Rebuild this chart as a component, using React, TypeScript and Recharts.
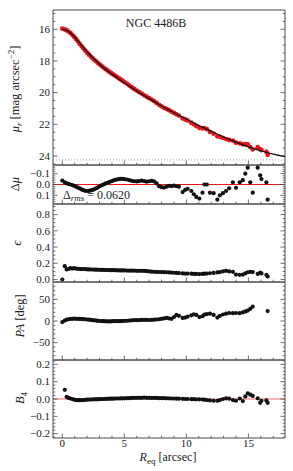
import {
  ComposedChart,
  ErrorBar,
  Line,
  ReferenceLine,
  Scatter,
  XAxis,
  YAxis,
} from "recharts";

const W = 293;
const H = 471;
const INK = "#4a4a4a";
const RED = "#e8161b";
const FONT = "'Liberation Serif', 'DejaVu Serif', serif";

// isophote radii [arcsec]
const radii = [
  0.0, 0.2, 0.35, 0.5, 0.65, 0.8, 0.95, 1.1, 1.25, 1.4,
  1.55, 1.7, 1.85, 2.0, 2.15, 2.3, 2.45, 2.6, 2.75, 2.9,
  3.05, 3.2, 3.35, 3.5, 3.65, 3.8, 3.95, 4.1, 4.25, 4.4,
  4.55, 4.7, 4.85, 5.0, 5.2, 5.4, 5.6, 5.8, 6.0, 6.2,
  6.4, 6.6, 6.8, 7.0, 7.2, 7.4, 7.6, 7.8, 8.0, 8.2,
  8.4, 8.6, 8.8, 9.0, 9.2, 9.4, 9.7, 9.9, 10.1, 10.4,
  10.6, 10.8, 11.05, 11.3, 11.45, 11.65, 11.9, 12.2, 12.5, 12.7,
  12.95, 13.2, 13.45, 13.75, 14.0, 14.3, 14.55, 14.75, 14.95, 15.15,
  15.35, 15.75, 15.95, 16.05, 16.45, 16.55,
];

// surface brightness [mag arcsec^-2]
const muObs = [
  15.96, 16.01, 16.06, 16.14, 16.23, 16.35, 16.47, 16.61, 16.76, 16.92,
  17.06, 17.2, 17.35, 17.48, 17.6, 17.72, 17.84, 17.94, 18.04, 18.15,
  18.24, 18.34, 18.43, 18.52, 18.6, 18.69, 18.77, 18.85, 18.93, 19.0,
  19.09, 19.17, 19.25, 19.33, 19.43, 19.55, 19.66, 19.77, 19.87, 19.97,
  20.06, 20.17, 20.26, 20.35, 20.44, 20.53, 20.65, 20.77, 20.87, 20.96,
  21.03, 21.11, 21.2, 21.28, 21.37, 21.45, 21.63, 21.69, 21.76, 21.9,
  22.0, 22.11, 22.22, 22.26, 22.24, 22.31, 22.48, 22.59, 22.76, 22.79,
  22.86, 22.93, 22.99, 23.03, 23.16, 23.2, 23.26, 23.26, 23.27, 23.44,
  23.58, 23.45, 23.58, 23.63, 23.74, 23.92,
];

const muErr = [
  0.02, 0.02, 0.02, 0.02, 0.02, 0.02, 0.02, 0.02, 0.02, 0.02,
  0.02, 0.02, 0.02, 0.02, 0.02, 0.02, 0.02, 0.02, 0.02, 0.02,
  0.02, 0.02, 0.02, 0.02, 0.02, 0.02, 0.02, 0.02, 0.02, 0.02,
  0.02, 0.02, 0.02, 0.02, 0.02, 0.02, 0.02, 0.02, 0.02, 0.02,
  0.02, 0.02, 0.02, 0.02, 0.02, 0.02, 0.02, 0.02, 0.02, 0.02,
  0.03, 0.03, 0.03, 0.03, 0.03, 0.03, 0.03, 0.03, 0.03, 0.03,
  0.04, 0.04, 0.05, 0.05, 0.05, 0.05, 0.06, 0.06, 0.07, 0.07,
  0.07, 0.08, 0.08, 0.08, 0.09, 0.09, 0.1, 0.1, 0.11, 0.11,
  0.12, 0.12, 0.13, 0.13, 0.14, 0.14,
];

// residuals data - model
const dMu = [
  -0.036, -0.02, -0.01, -0.005, 0.0, 0.005, 0.012, 0.02, 0.028, 0.036,
  0.045, 0.052, 0.058, 0.06, 0.058, 0.055, 0.05, 0.042, 0.034, 0.024,
  0.014, 0.006, -0.002, -0.01, -0.016, -0.024, -0.03, -0.036, -0.042, -0.046,
  -0.05, -0.052, -0.052, -0.05, -0.046, -0.04, -0.034, -0.03, -0.028, -0.032,
  -0.036, -0.032, -0.026, -0.03, -0.034, -0.028, -0.01, 0.015, 0.025, 0.028,
  0.02, 0.012, 0.015, 0.01, 0.016, 0.02, 0.07, 0.05, 0.04, 0.06,
  0.09, 0.115, 0.13, 0.075, 0.0, 0.0, 0.075, 0.08, 0.14, 0.1,
  0.08, 0.06, 0.035, -0.02, 0.03, -0.02, -0.04, -0.1, -0.155, -0.02,
  0.075, -0.155, -0.085, -0.05, -0.02, 0.14,
];

const ellip = [
  0.0, 0.165, 0.125, 0.13, 0.14, 0.135, 0.14, 0.135, 0.132, 0.13,
  0.128, 0.13, 0.128, 0.126, 0.125, 0.124, 0.124, 0.122, 0.122, 0.121,
  0.12, 0.12, 0.119, 0.118, 0.118, 0.117, 0.116, 0.116, 0.115, 0.114,
  0.114, 0.113, 0.112, 0.112, 0.111, 0.11, 0.11, 0.109, 0.108, 0.108,
  0.107, 0.106, 0.104, 0.1, 0.097, 0.095, 0.094, 0.093, 0.092, 0.091,
  0.09, 0.088, 0.086, 0.084, 0.082, 0.08, 0.076, 0.074, 0.074, 0.072,
  0.07, 0.07, 0.068, 0.07, 0.072, 0.074, 0.078, 0.082, 0.088, 0.092,
  0.1, 0.108, 0.1, 0.095, 0.062, 0.058, 0.062, 0.075, 0.09, 0.095,
  0.092, 0.07, 0.085, 0.075, 0.058, 0.038,
];

// position angle [deg]
const posAng = [
  -2.5, 1, 3, 4, 5, 5, 5.5, 5, 5, 4.8,
  4.5, 4.5, 4, 3.5, 3, 2.5, 2, 1.5, 1, 0.5,
  0, -0.5, -0.5, -0.8, -0.8, -1, -0.8, -0.5, -0.5, 0,
  -0.5, -0.2, 0, 0.3, 0.5, 1, 1.5, 2, 2, 2.2,
  2.5, 2.5, 2.5, 2.3, 2.5, 3, 3.5, 4, 5, 6,
  7, 6, 5, 9, 14, 12, 7, 8, 10, 13,
  15.5, 14, 9, 11, 15, 16, 17, 14, 8, 12,
  15, 17, 18.5, 18, 18.5, 18, 20, 22, 24, 28,
  33, null, null, null, null, 23,
];

const b4 = [
  null, 0.053, 0.012, 0.006, 0.003, 0.0, -0.004, -0.006, -0.007, -0.007,
  -0.006, -0.006, -0.005, -0.004, -0.003, -0.003, -0.002, -0.002, -0.002, -0.001,
  -0.001, 0.0, 0.0, 0.001, 0.001, 0.002, 0.002, 0.002, 0.003, 0.003,
  0.003, 0.004, 0.004, 0.004, 0.005, 0.005, 0.006, 0.006, 0.007, 0.007,
  0.007, 0.008, 0.007, 0.007, 0.006, 0.006, 0.006, 0.005, 0.005, 0.005,
  0.004, 0.004, 0.003, 0.003, 0.002, 0.002, 0.001, 0.0, 0.0, -0.001,
  -0.001, -0.002, -0.002, -0.003, -0.004, -0.006, -0.008, -0.01, -0.01, -0.006,
  0.0, 0.004, 0.002, -0.006, -0.01, 0.003, -0.012, 0.015, 0.033, 0.025,
  0.018, 0.004, -0.022, -0.01, -0.008, -0.022,
];

// fitted model profile
const modelR = [0, 0.25, 0.5, 0.75, 1, 1.5, 2, 2.5, 3, 3.5, 4, 4.5, 5, 6, 7, 8, 9, 10, 11, 12, 13, 14, 15, 16, 17, 18];
const modelMu = [
  16.0, 16.04, 16.14, 16.3, 16.5, 16.97, 17.42, 17.83, 18.2, 18.53, 18.83, 19.11, 19.38,
  19.9, 20.38, 20.84, 21.27, 21.68, 22.07, 22.44, 22.8, 23.13, 23.42, 23.67, 23.88, 24.05,
];

const xMajor = [0, 5, 10, 15];
const X_DOMAIN = [-0.75, 17.95];
const MU_DOMAIN = [14.78, 24.57];

const steps = (a: number, b: number, s: number) =>
  Array.from({ length: Math.round((b - a) / s) + 1 }, (_, i) => +(a + i * s).toFixed(4));

const rows = (ys: (number | null)[]) =>
  radii.flatMap((r, i) => (ys[i] == null ? [] : [{ r, y: ys[i] as number }]));

const profileRows = radii.map((r, i) => ({ r, y: muObs[i], e: muErr[i] }));
const modelRows = modelR.map((r, i) => ({ r, y: modelMu[i] }));

const minus = (s: string) => s.replace("-", "\u2212");
const fmtInt = (v: number) => minus(String(v));
const fmt1 = (v: number) => minus((Math.abs(v) < 1e-9 ? 0 : v).toFixed(1));

type Side = "left" | "right" | "top" | "bottom";

function makeTick(side: Side, majors: number[], fmt?: (v: number) => string) {
  return (props: any) => {
    const { x, y, payload } = props;
    const v = payload.value as number;
    const major = majors.some((m) => Math.abs(m - v) < 1e-6);
    const len = major ? 4.5 : 2.3;
    let x2 = x;
    let y2 = y;
    if (side === "left") x2 = x + len;
    if (side === "right") x2 = x - len;
    if (side === "top") y2 = y + len;
    if (side === "bottom") y2 = y - len;
    return (
      <g>
        <line x1={x} y1={y} x2={x2} y2={y2} stroke={INK} strokeWidth={0.8} />
        {fmt && major ? (
          side === "left" ? (
            <text x={x - 3} y={y + 3.8} textAnchor="end" fontSize={11} fontFamily={FONT} fill="#222">
              {fmt(v)}
            </text>
          ) : (
            <text x={x} y={y + 9} textAnchor="middle" fontSize={11} fontFamily={FONT} fill="#222">
              {fmt(v)}
            </text>
          )
        ) : null}
      </g>
    );
  };
}

const xTicks = steps(0, 17, 1);

function Panel({
  top,
  bottom,
  yDomain,
  reversed,
  yTicks,
  yMajor,
  yFmt,
  showX,
  children,
}: {
  top: number;
  bottom: number;
  yDomain: number[];
  reversed?: boolean;
  yTicks: number[];
  yMajor: number[];
  yFmt: (v: number) => string;
  showX?: boolean;
  children: any;
}) {
  const axisLine = { stroke: INK, strokeWidth: 1 };
  return (
    <div style={{ position: "absolute", left: 0, top: 0 }}>
      <ComposedChart
        width={W}
        height={H}
        margin={{ top: top - 1, bottom: H - bottom - 1, left: 52, right: 7 }}
      >
        <XAxis
          dataKey="r"
          type="number"
          domain={X_DOMAIN}
          allowDataOverflow
          ticks={xTicks}
          interval={0}
          height={1}
          tickSize={0}
          tickMargin={0}
          tickLine={false}
          axisLine={axisLine}
          tick={makeTick("bottom", xMajor, showX ? fmtInt : undefined)}
        />
        <XAxis
          xAxisId="t"
          orientation="top"
          type="number"
          domain={X_DOMAIN}
          allowDataOverflow
          ticks={xTicks}
          interval={0}
          height={1}
          tickSize={0}
          tickMargin={0}
          tickLine={false}
          axisLine={axisLine}
          tick={makeTick("top", xMajor)}
        />
        <YAxis
          dataKey="y"
          type="number"
          domain={yDomain}
          reversed={reversed}
          allowDataOverflow
          ticks={yTicks}
          interval={0}
          width={1}
          tickSize={0}
          tickMargin={0}
          tickLine={false}
          axisLine={axisLine}
          tick={makeTick("left", yMajor, yFmt)}
        />
        <YAxis
          yAxisId="r"
          orientation="right"
          type="number"
          domain={yDomain}
          reversed={reversed}
          allowDataOverflow
          ticks={yTicks}
          interval={0}
          width={1}
          tickSize={0}
          tickMargin={0}
          tickLine={false}
          axisLine={axisLine}
          tick={makeTick("right", yMajor)}
        />
        {children}
      </ComposedChart>
    </div>
  );
}

// the fitted model goes in its own chart layered above the red data points
function ModelOverlay() {
  return (
    <div style={{ position: "absolute", left: 0, top: 0, pointerEvents: "none" }}>
      <ComposedChart
        width={W}
        height={H}
        data={modelRows}
        margin={{ top: 10, bottom: H - 165, left: 53, right: 8 }}
      >
        <XAxis dataKey="r" type="number" domain={X_DOMAIN} allowDataOverflow hide />
        <YAxis dataKey="y" type="number" domain={MU_DOMAIN} reversed allowDataOverflow hide />
        <Line
          dataKey="y"
          type="monotone"
          stroke="#111"
          strokeWidth={1.3}
          dot={false}
          isAnimationActive={false}
        />
      </ComposedChart>
    </div>
  );
}

const dot = (fill: string, r: number) => (p: any) =>
  <circle cx={p.cx} cy={p.cy} r={r} fill={fill} />;

export default function App() {
  return (
    <div
      style={{
        position: "absolute",
        left: 0,
        top: 0,
        width: W,
        height: H,
        background: "#fff",
        fontFamily: FONT,
      }}
    >
      <Panel
        top={10}
        bottom={165}
        yDomain={MU_DOMAIN}
        reversed
        yTicks={steps(15, 24.5, 0.5)}
        yMajor={[16, 18, 20, 22, 24]}
        yFmt={fmtInt}
      >
        <ReferenceLine y={24.25} stroke="#888" strokeDasharray="1 2" strokeWidth={0.8} />
        <Scatter data={profileRows} isAnimationActive={false} shape={dot(RED, 2.4)}>
          <ErrorBar dataKey="e" direction="y" width={0} stroke={RED} strokeWidth={1.6} isAnimationActive={false} />
        </Scatter>
      </Panel>
      <ModelOverlay />

      <Panel
        top={165}
        bottom={204}
        yDomain={[-0.18, 0.18]}
        reversed
        yTicks={steps(-0.16, 0.16, 0.02)}
        yMajor={[-0.1, 0, 0.1]}
        yFmt={fmt1}
      >
        <ReferenceLine y={0} stroke={RED} strokeWidth={1.2} />
        <Scatter data={rows(dMu)} isAnimationActive={false} shape={dot("#111", 2.1)} />
      </Panel>

      <Panel
        top={204}
        bottom={282}
        yDomain={[-0.03, 0.93]}
        yTicks={steps(0, 0.9, 0.05)}
        yMajor={[0, 0.2, 0.4, 0.6, 0.8]}
        yFmt={fmt1}
      >
        <Scatter data={rows(ellip)} isAnimationActive={false} shape={dot("#111", 2.1)} />
      </Panel>

      <Panel
        top={282}
        bottom={360}
        yDomain={[-90, 90]}
        yTicks={steps(-80, 80, 10)}
        yMajor={[-50, 0, 50]}
        yFmt={fmtInt}
      >
        <Scatter data={rows(posAng)} isAnimationActive={false} shape={dot("#111", 2.1)} />
      </Panel>

      <Panel
        top={360}
        bottom={438}
        yDomain={[-0.225, 0.225]}
        yTicks={steps(-0.22, 0.22, 0.02)}
        yMajor={[-0.2, -0.1, 0, 0.1, 0.2]}
        yFmt={fmt1}
        showX
      >
        <ReferenceLine y={0} stroke="#f06a6a" strokeWidth={1.2} />
        <Scatter data={rows(b4)} isAnimationActive={false} shape={dot("#111", 2.1)} />
      </Panel>

      <svg
        width={W}
        height={H}
        style={{ position: "absolute", left: 0, top: 0, pointerEvents: "none" }}
        fontFamily={FONT}
        fill="#222"
      >
        <text x={156} y={27} textAnchor="middle" fontSize={12}>
          NGC 4486B
        </text>
        <text transform="translate(19,89) rotate(-90)" textAnchor="middle" fontSize={12.5}>
          <tspan fontStyle="italic">μ</tspan>
          <tspan fontStyle="italic" fontSize={9} dy={3}>r</tspan>
          <tspan dy={-3}> [mag arcsec</tspan>
          <tspan fontSize={9} dy={-5}>−2</tspan>
          <tspan dy={5}>]</tspan>
        </text>
        <text transform="translate(19,184) rotate(-90)" textAnchor="middle" fontSize={12.5}>
          Δ<tspan fontStyle="italic">μ</tspan>
        </text>
        <text transform="translate(21,243) rotate(-90)" textAnchor="middle" fontSize={13} fontStyle="italic">
          ϵ
        </text>
        <text transform="translate(24,316) rotate(-90)" textAnchor="middle" fontSize={12.5}>
          <tspan fontStyle="italic">PA</tspan> [deg]
        </text>
        <text transform="translate(24,398) rotate(-90)" textAnchor="middle" fontSize={12.5}>
          <tspan fontStyle="italic">B</tspan>
          <tspan fontSize={9} dy={3}>4</tspan>
        </text>
        <text x={168} y={461} textAnchor="middle" fontSize={12}>
          <tspan fontStyle="italic">R</tspan>
          <tspan fontSize={9} dy={2.5}>eq</tspan>
          <tspan dy={-2.5}> [arcsec]</tspan>
        </text>
        <text x={63} y={199} fontSize={12}>
          Δ<tspan fontStyle="italic" fontSize={9} dy={2}>rms</tspan>
          <tspan dy={-2}> = 0.0620</tspan>
        </text>
      </svg>
    </div>
  );
}
